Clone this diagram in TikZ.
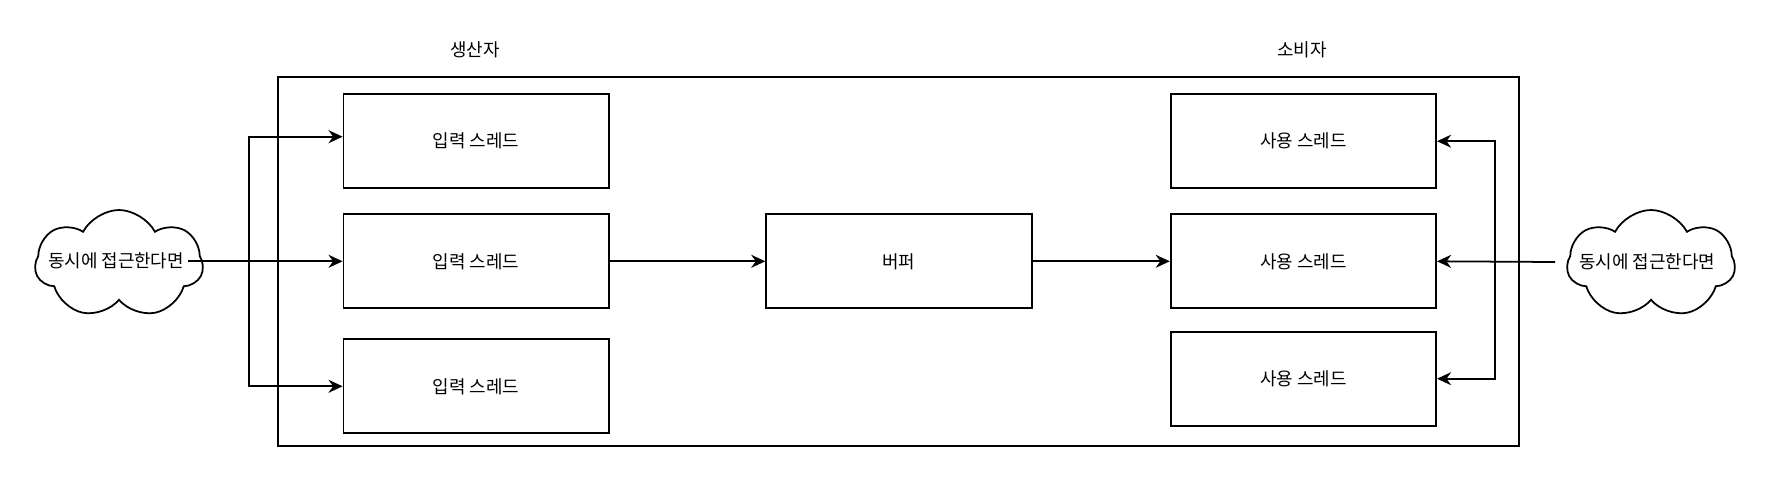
\documentclass[tikz,border=0pt]{standalone}
\usepackage{fontspec}
\newfontfamily\kor{Noto Sans CJK KR}
\usepackage{tikz}
\usetikzlibrary{arrows.meta}
\usetikzlibrary{calc,shapes}
\tikzset{
  thread/.style={draw,line width=1pt,minimum width=5.31cm,minimum height=1.88cm,font=\kor\fontsize{10.2}{12}\selectfont},
  label/.style={font=\kor\fontsize{10.2}{12}\selectfont},
  puff/.style={draw,line width=1pt,cloud,cloud puffs=7,cloud puff arc=125,minimum width=3.36cm,minimum height=2.16cm},
  link/.style={-{Stealth[length=8pt,width=7.4pt,inset=2.6pt]},line width=1pt}
}
\begin{document}
\begin{tikzpicture}[x=2cm,y=-2cm]
\useasboundingbox (0,0) rectangle (17.84,4.76);
% Cadre
\draw [line width=1pt] (2.783,0.767) rectangle (15.19,4.46);
\node [label] (tprod) at (4.75,0.50) {생산자};
\node [label] (tcons) at (13.02,0.50) {소비자};
% Boîtes
\node [thread] (in1) at (4.762,1.412) {입력 스레드};
\node [thread] (in2) at (4.762,2.613) {입력 스레드};
\node [thread] (in3) at (4.762,3.863) {입력 스레드};
\node [thread] (buf) at (8.989,2.613) {버퍼};
\node [thread] (out1) at (13.034,1.412) {사용 스레드};
\node [thread] (out2) at (13.034,2.613) {사용 스레드};
\node [thread] (out3) at (13.034,3.787) {사용 스레드};
% Nuages
\node [puff] (lcloud) at (1.19,2.64) {};
\node [label] (ltext) at (1.16,2.61) {동시에 접근한다면};
\node [puff] (rcloud) at (16.51,2.64) {};
\node [label] (rtext) at (16.47,2.62) {동시에 접근한다면};
\coordinate (lsrc) at (1.88,2.613);
\coordinate (lfork) at (2.493,2.613);
\coordinate (rsrc) at (15.55,2.62);
\coordinate (rfork) at (14.95,2.62);
% Flèches
\draw [link] (lsrc) -- (in2.west);
\draw [link] (lfork) |- ($(in1.west)+(0,-0.045)$);
\draw [link] (lfork) |- (in3.west);
\draw [link] (in2.east) -- (buf.west);
\draw [link] (buf.east) -- (out2.west);
\draw [link] (rsrc) -- (out2.east);
\draw [link] (rfork) |- (out1.east);
\draw [link] (rfork) |- (out3.east);
\end{tikzpicture}
\end{document}
